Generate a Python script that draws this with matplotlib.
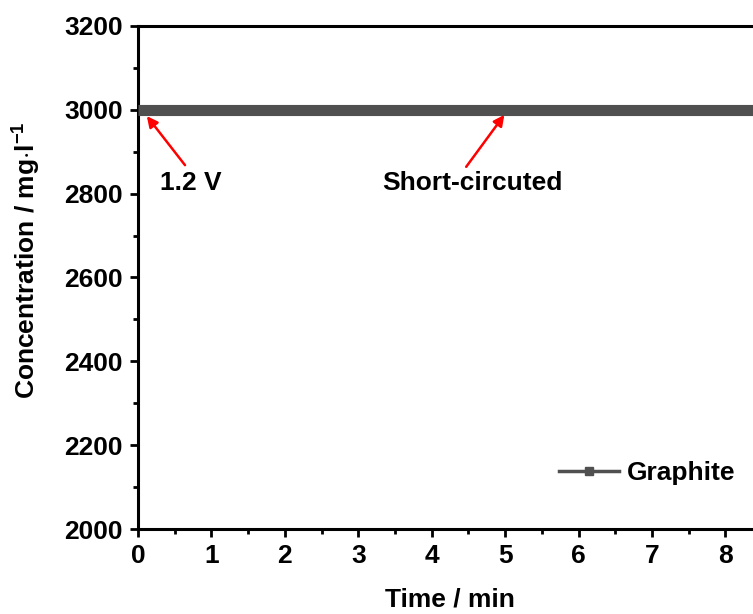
import matplotlib
matplotlib.use("Agg")
import matplotlib.pyplot as plt
from matplotlib.lines import Line2D

plt.rcParams['font.family'] = ['Liberation Sans', 'DejaVu Sans']
plt.rcParams['font.weight'] = 'bold'
plt.rcParams['mathtext.fontset'] = 'custom'
plt.rcParams['mathtext.rm'] = 'Liberation Sans'
plt.rcParams['mathtext.bf'] = 'Liberation Sans:bold'

# data (concentration stays flat at 3000)
time_min = [0, 0.5, 1, 1.5, 2, 2.5, 3, 3.5, 4, 4.5, 5, 5.5, 6, 6.5, 7, 7.5, 8, 8.5]
conc = [3000, 3000, 3000, 3000, 3000, 3000, 3000, 3000, 3000,
        3000, 3000, 3000, 3000, 3000, 3000, 3000, 3000, 3000]
series_name = 'Graphite'

# arrow notes: label, text position, arrow tail, arrow tip (data coords)
note_labels = ['1.2 V', 'Short-circuted']
note_text_xy = [(0.30, 2825), (4.56, 2825)]
note_tail_xy = [(0.64, 2868), (4.47, 2864)]
note_tip_xy = [(0.12, 2985), (4.99, 2988)]

line_color = '#505050'
fs = 19

fig = plt.figure(figsize=(7.53, 6.14), dpi=100)
ax = fig.add_axes([0.1833, 0.1384, 0.8287, 0.8193])

ax.plot(time_min, conc, color=line_color, lw=8, solid_capstyle='butt', zorder=3)

ax.set_xlim(0, 8.5)
ax.set_ylim(2000, 3200)
ax.set_xticks(range(0, 9))
ax.set_xticks([x + 0.5 for x in range(0, 9)], minor=True)
ax.set_yticks(range(2000, 3201, 200))
ax.set_yticks(range(2100, 3200, 200), minor=True)

for s in ax.spines.values():
    s.set_linewidth(2.2)
ax.tick_params(which='major', direction='out', length=6, width=2, labelsize=fs, pad=5)
ax.tick_params(which='minor', direction='out', length=3.5, width=2)

ax.set_xlabel('Time / min', fontsize=fs, fontweight='bold', labelpad=14)
ax.set_ylabel(r'Concentration / mg$\cdot$l$^{\mathbf{-1}}$', fontsize=fs,
              fontweight='bold')
ax.yaxis.set_label_coords(-0.154, 0.535)

# annotations with red arrows
ax.text(note_text_xy[0][0], note_text_xy[0][1], note_labels[0], fontsize=fs,
        fontweight='bold', ha='left', va='center')
ax.text(note_text_xy[1][0], note_text_xy[1][1], note_labels[1], fontsize=fs,
        fontweight='bold', ha='center', va='center')
for tail, tip in zip(note_tail_xy, note_tip_xy):
    ax.annotate('', xy=tip, xytext=tail,
                arrowprops=dict(arrowstyle='-|>', color='red', lw=1.8,
                                mutation_scale=16, shrinkA=0, shrinkB=0),
                zorder=4)

handle = Line2D([], [], color=line_color, lw=2.5, marker='s', markersize=6)
ax.legend([handle], [series_name], loc='lower right', frameon=False,
          fontsize=fs, bbox_to_anchor=(0.996, 0.04), handlelength=2.3,
          handletextpad=0.3)

fig.savefig('out.png', dpi=100)
